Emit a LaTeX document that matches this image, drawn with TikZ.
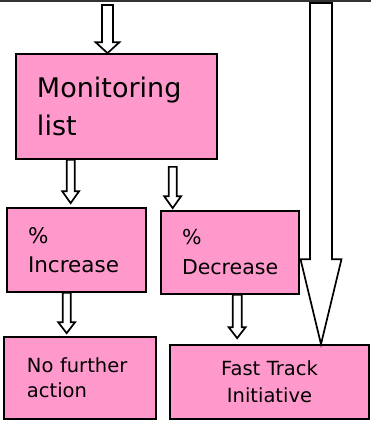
\documentclass[tikz,border=0pt]{standalone}
\usepackage{fontspec}
\setmainfont{DejaVu Sans}
\usepackage{tikz}
\usetikzlibrary{calc}

\definecolor{boxpink}{HTML}{FF99CC}

\newcommand\hollowarrow[5]{%
  \draw[blockarrow] ($(#1)+(-#3,0)$) -- ($(#2)+(-#3,-#5)$) -- ($(#2)+(-#4,-#5)$)
    -- (#2) -- ($(#2)+(#4,-#5)$) -- ($(#2)+(#3,-#5)$) -- ($(#1)+(#3,0)$) -- cycle;}

\begin{document}
\begin{tikzpicture}[
    x=1pt,
    y=-1pt,
    line width=1.7pt
]

\tikzstyle{box}=[
    draw,
    fill=boxpink,
    rectangle,
    inner ysep=0pt,
    align=left
]
\tikzstyle{blockarrow}=[
    draw=black,
    fill=white,
    line join=miter
]

\useasboundingbox (0,0) rectangle (371,421);

\draw[black!80, line width=2pt] (0,1) -- (371,1);


\node[box, minimum width=201, minimum height=105, inner xsep=21, text width=159,
      font=\fontsize{27}{38}\selectfont] (mon) at (116.5,106.5) {Monitoring\\list};
\node[box, minimum width=139, minimum height=84, inner xsep=21, text width=97,
      font=\fontsize{21.5}{29}\selectfont] (inc) at (76.5,250) {\%\\Increase};
\node[box, minimum width=138, minimum height=83, inner xsep=21, text width=96,
      font=\fontsize{20.5}{30}\selectfont] (dec) at (230,252.5) {\%\\Decrease};
\node[box, minimum width=152, minimum height=82, inner xsep=23, text width=106,
      font=\fontsize{19.5}{25}\selectfont] (nfa) at (80,378) {No further\\action};
\node[box, minimum width=199, minimum height=74, inner xsep=20, text width=159, align=center,
      font=\fontsize{19.5}{27}\selectfont] (ftr) at (269.5,382) {Fast Track\\Initiative};


\coordinate (in0) at (107.5,5);
\coordinate (in1) at (321,3);

\hollowarrow{in0}{in0 |- mon.north}{5.5}{12}{11}
\hollowarrow{$(mon.south west)+(55.5,0)$}{$(inc.north west)+(64.5,-4)$}{4}{8.5}{12}
\hollowarrow{$(mon.south west)+(157.5,7)$}{$(dec.north west)+(12.5,-2)$}{4}{8.5}{12}
\hollowarrow{$(inc.south west)+(60.5,0)$}{$(nfa.north west)+(63.5,-3)$}{4}{8.5}{11}
\hollowarrow{$(dec.south west)+(77,0)$}{$(ftr.north west)+(68,-6)$}{4.5}{8.5}{11}
\hollowarrow{in1}{in1 |- ftr.north}{11}{20.5}{85}

\end{tikzpicture}
\end{document}
